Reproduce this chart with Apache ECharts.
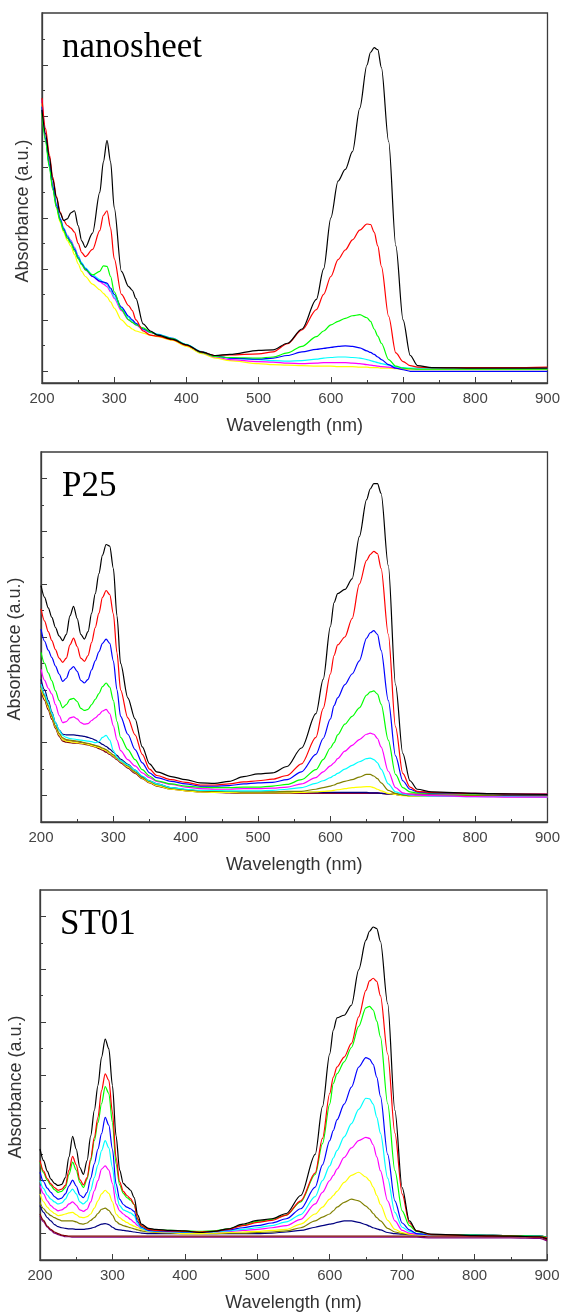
<!DOCTYPE html>
<html>
<head>
<meta charset="utf-8">
<script src="https://cdn.jsdelivr.net/npm/echarts@6/dist/echarts.min.js"></script>
<style>html,body{margin:0;padding:0;background:#fff;}#c{width:563px;height:1313px;}</style>
</head>
<body>
<div id="c"></div>
<script>
// ---------- Panel 1: nanosheet ----------
const W1 = [200,205,210,215,220,225,230,235,240,245,250,255,260,270,280,285,290,295,300,310,320,325,330,340,350,360,380,400,420,440,460,500,520,540,560,580,590,600,610,620,630,640,650,655,660,665,670,680,690,700,710,720,740,800,850,900];
const N_black = [5.12,4.65,4.2,3.75,3.4,3.1,2.95,2.98,3.1,3.14,2.85,2.55,2.42,2.7,3.5,4.1,4.52,4.1,3.2,1.95,1.65,1.58,1.42,0.92,0.78,0.7,0.62,0.51,0.37,0.3,0.32,0.4,0.41,0.54,0.82,1.4,2.0,3.0,3.72,3.95,4.3,5.15,6.0,6.25,6.34,6.3,5.95,4.5,2.45,1.0,0.3,0.1,0.06,0.05,0.05,0.05];
const N_red = [5.35,4.75,4.25,3.8,3.42,3.12,2.95,2.85,2.8,2.72,2.5,2.32,2.24,2.38,2.75,3.05,3.14,2.8,2.2,1.5,1.28,1.18,1.0,0.78,0.7,0.68,0.61,0.5,0.37,0.3,0.31,0.33,0.37,0.53,0.8,1.2,1.5,1.85,2.18,2.37,2.57,2.76,2.88,2.87,2.72,2.45,2.05,1.07,0.35,0.18,0.1,0.07,0.06,0.06,0.06,0.07];
const N_green = [5.05,4.5,4.0,3.55,3.2,2.95,2.75,2.6,2.5,2.35,2.2,2.08,1.98,1.88,1.95,2.06,2.05,1.85,1.55,1.2,1.0,0.95,0.9,0.84,0.76,0.7,0.63,0.51,0.36,0.28,0.26,0.25,0.27,0.35,0.48,0.67,0.78,0.9,0.97,1.03,1.08,1.1,1.04,0.97,0.82,0.68,0.54,0.22,0.09,0.05,0.04,0.03,0.03,0.03,0.03,0.03];
const N_blue = [5.18,4.55,4.05,3.6,3.25,2.98,2.78,2.63,2.52,2.38,2.22,2.1,2.0,1.85,1.76,1.74,1.72,1.62,1.5,1.25,1.07,1.0,0.93,0.82,0.76,0.71,0.63,0.51,0.37,0.29,0.25,0.23,0.25,0.3,0.37,0.42,0.44,0.46,0.48,0.49,0.48,0.45,0.39,0.36,0.32,0.27,0.22,0.12,0.05,0.02,-0.01,-0.01,-0.01,-0.01,-0.01,-0.01];
const N_cyan = [5.18,4.55,4.05,3.62,3.27,3.0,2.8,2.65,2.54,2.4,2.25,2.12,2.02,1.88,1.79,1.74,1.69,1.58,1.45,1.22,1.04,0.98,0.92,0.82,0.76,0.72,0.64,0.52,0.38,0.29,0.25,0.22,0.2,0.19,0.2,0.23,0.25,0.26,0.27,0.27,0.26,0.25,0.22,0.2,0.18,0.16,0.14,0.11,0.08,0.06,0.05,0.05,0.05,0.05,0.05,0.05];
const N_magenta = [5.32,4.65,4.12,3.65,3.28,3.0,2.8,2.66,2.56,2.42,2.26,2.1,1.98,1.85,1.75,1.7,1.65,1.55,1.42,1.18,1.0,0.95,0.9,0.8,0.75,0.71,0.64,0.51,0.36,0.27,0.22,0.18,0.17,0.15,0.14,0.15,0.16,0.16,0.16,0.16,0.15,0.14,0.12,0.11,0.1,0.09,0.08,0.07,0.05,0.04,0.04,0.04,0.04,0.04,0.04,0.04];
const N_yellow = [5.25,4.58,4.05,3.58,3.2,2.92,2.72,2.56,2.44,2.28,2.1,1.95,1.85,1.7,1.59,1.52,1.45,1.35,1.23,1.0,0.87,0.82,0.78,0.74,0.7,0.67,0.6,0.48,0.34,0.25,0.2,0.14,0.12,0.11,0.1,0.09,0.09,0.09,0.08,0.08,0.08,0.07,0.07,0.06,0.06,0.06,0.05,0.05,0.04,0.03,0.02,0.02,0.02,0.02,0.02,0.02];

// ---------- Panel 2: P25 ----------
const W2 = [200,205,210,215,220,225,230,235,240,245,250,255,260,265,270,275,280,285,290,295,300,305,310,320,330,340,350,360,380,400,420,440,460,480,500,520,540,560,580,590,600,605,610,620,630,640,650,655,660,665,670,680,690,700,710,720,740,800,850,900];
const P_black = [3.97,3.75,3.55,3.37,3.18,3.02,2.93,3.05,3.4,3.58,3.35,3.05,2.96,3.1,3.45,3.82,4.2,4.55,4.75,4.72,4.3,3.4,2.5,1.85,1.45,0.92,0.6,0.45,0.36,0.3,0.24,0.23,0.27,0.36,0.41,0.43,0.55,0.9,1.55,2.2,3.2,3.65,3.82,3.9,4.1,4.9,5.6,5.8,5.9,5.9,5.72,4.35,2.1,0.8,0.28,0.12,0.07,0.04,0.03,0.02];
const P_red = [3.53,3.3,3.1,2.93,2.76,2.6,2.52,2.6,2.85,2.98,2.82,2.6,2.54,2.65,2.9,3.18,3.45,3.75,3.88,3.8,3.44,2.7,2.0,1.47,1.15,0.78,0.5,0.38,0.3,0.25,0.2,0.2,0.22,0.26,0.28,0.31,0.38,0.6,1.1,1.65,2.3,2.65,2.85,3.0,3.35,4.0,4.45,4.56,4.62,4.58,4.3,3.05,1.3,0.42,0.16,0.08,0.06,0.04,0.03,0.03];
const P_blue = [3.15,2.92,2.75,2.61,2.45,2.3,2.16,2.22,2.38,2.44,2.35,2.18,2.13,2.2,2.38,2.55,2.72,2.88,2.96,2.88,2.55,2.0,1.5,1.16,0.87,0.62,0.43,0.34,0.27,0.22,0.18,0.18,0.19,0.22,0.24,0.25,0.3,0.45,0.78,1.08,1.45,1.7,1.85,2.1,2.3,2.55,2.98,3.08,3.12,3.05,2.75,1.8,0.75,0.28,0.12,0.07,0.05,0.04,0.03,0.03];
const P_green = [2.71,2.5,2.32,2.17,1.98,1.8,1.66,1.72,1.82,1.84,1.78,1.65,1.61,1.63,1.72,1.82,1.93,2.06,2.13,2.05,1.8,1.4,1.1,0.87,0.68,0.49,0.37,0.28,0.22,0.18,0.16,0.15,0.15,0.16,0.16,0.18,0.21,0.3,0.49,0.68,0.9,1.0,1.15,1.35,1.5,1.66,1.9,1.96,1.98,1.92,1.73,1.05,0.4,0.15,0.07,0.05,0.04,0.03,0.03,0.02];
const P_magenta = [2.39,2.18,2.03,1.92,1.72,1.52,1.38,1.4,1.47,1.49,1.45,1.38,1.35,1.36,1.42,1.47,1.53,1.6,1.63,1.55,1.32,1.05,0.85,0.68,0.56,0.43,0.34,0.27,0.21,0.16,0.13,0.12,0.12,0.13,0.13,0.14,0.16,0.22,0.34,0.45,0.56,0.62,0.7,0.84,0.95,1.06,1.16,1.18,1.16,1.08,0.92,0.46,0.15,0.05,0.02,0.01,0.0,-0.02,-0.03,-0.03];
const P_cyan = [2.11,1.92,1.75,1.56,1.38,1.24,1.14,1.1,1.08,1.07,1.06,1.05,1.04,1.03,1.02,1.0,1.02,1.1,1.14,1.05,0.85,0.72,0.66,0.58,0.48,0.37,0.28,0.22,0.15,0.12,0.1,0.1,0.09,0.09,0.09,0.1,0.12,0.15,0.23,0.28,0.34,0.38,0.42,0.5,0.57,0.64,0.7,0.71,0.68,0.62,0.5,0.22,0.07,0.03,0.01,0.0,-0.01,-0.02,-0.02,-0.03];
const P_olive = [2.08,1.88,1.7,1.5,1.32,1.18,1.09,1.06,1.05,1.04,1.03,1.02,1.0,0.99,0.97,0.95,0.93,0.9,0.87,0.82,0.77,0.71,0.66,0.56,0.45,0.34,0.27,0.21,0.14,0.11,0.09,0.08,0.08,0.07,0.07,0.07,0.08,0.08,0.12,0.15,0.18,0.2,0.23,0.27,0.3,0.35,0.4,0.4,0.37,0.32,0.24,0.1,0.04,0.01,0.0,0.0,0.0,0.0,-0.01,-0.01];
const P_yellow = [2.04,1.85,1.67,1.48,1.3,1.15,1.06,1.03,1.02,1.01,1.0,0.99,0.98,0.97,0.95,0.93,0.91,0.88,0.85,0.8,0.75,0.7,0.64,0.54,0.44,0.33,0.25,0.19,0.12,0.09,0.07,0.06,0.06,0.05,0.05,0.05,0.05,0.06,0.07,0.08,0.09,0.1,0.11,0.13,0.15,0.16,0.17,0.17,0.15,0.12,0.09,0.04,0.02,0.0,-0.01,-0.01,-0.01,-0.01,-0.02,-0.02];
const P_navy = [2.2,2.0,1.8,1.58,1.38,1.24,1.16,1.15,1.15,1.15,1.14,1.13,1.12,1.1,1.08,1.05,1.01,0.97,0.93,0.88,0.82,0.76,0.69,0.59,0.48,0.36,0.28,0.22,0.15,0.11,0.09,0.08,0.07,0.06,0.06,0.06,0.06,0.06,0.06,0.06,0.06,0.06,0.06,0.06,0.06,0.06,0.06,0.05,0.05,0.05,0.04,0.03,0.02,0.01,0.0,0.0,0.0,0.0,0.0,0.0];
const P_purple = [2.12,1.9,1.7,1.5,1.3,1.15,1.06,1.04,1.03,1.02,1.01,1.0,0.99,0.98,0.96,0.94,0.91,0.88,0.84,0.79,0.74,0.69,0.63,0.53,0.43,0.33,0.25,0.19,0.13,0.1,0.08,0.07,0.06,0.05,0.05,0.05,0.05,0.05,0.05,0.05,0.05,0.05,0.05,0.05,0.05,0.05,0.05,0.05,0.05,0.05,0.04,0.03,0.02,0.01,0.01,0.01,0.01,0.0,0.0,0.0];
const P_maroon = [2.0,1.8,1.62,1.44,1.27,1.12,1.03,1.01,1.0,0.99,0.99,0.98,0.97,0.96,0.94,0.92,0.89,0.86,0.82,0.78,0.73,0.68,0.62,0.52,0.42,0.32,0.24,0.18,0.12,0.09,0.07,0.06,0.05,0.04,0.04,0.04,0.04,0.04,0.04,0.04,0.04,0.04,0.04,0.04,0.04,0.04,0.04,0.04,0.04,0.04,0.04,0.03,0.03,0.03,0.03,0.03,0.03,0.03,0.03,0.02];

// ---------- Panel 3: ST01 ----------
const W3 = [200,205,210,215,220,225,230,235,240,245,250,255,260,265,270,275,280,285,290,295,300,305,310,315,320,325,330,335,340,350,360,380,400,420,440,460,480,500,520,540,560,580,590,600,605,610,620,630,640,650,655,660,665,670,680,690,700,710,720,740,800,850,890,900];
const S_black = [1.6,1.38,1.18,1.03,0.95,0.91,0.93,1.06,1.45,1.84,1.6,1.25,1.12,1.38,1.85,2.33,2.8,3.34,3.68,3.5,2.8,1.85,1.2,0.95,0.88,0.82,0.68,0.35,0.18,0.1,0.08,0.06,0.05,0.02,0.04,0.09,0.18,0.25,0.28,0.38,0.72,1.5,2.4,3.4,3.85,4.08,4.13,4.32,4.99,5.55,5.72,5.8,5.77,5.53,4.35,2.33,0.87,0.24,0.05,-0.01,-0.04,-0.05,-0.06,-0.1];
const S_red = [1.38,1.18,1.04,0.94,0.87,0.82,0.84,0.91,1.2,1.46,1.3,1.02,0.92,1.06,1.42,1.82,2.2,2.71,3.02,2.9,2.3,1.44,0.98,0.8,0.72,0.66,0.55,0.28,0.15,0.08,0.06,0.05,0.04,0.03,0.04,0.08,0.15,0.21,0.25,0.35,0.62,1.15,1.8,2.65,2.96,3.15,3.34,3.6,4.1,4.6,4.78,4.83,4.77,4.5,3.4,1.9,0.75,0.2,0.05,-0.02,-0.04,-0.05,-0.06,-0.08];
const S_green = [1.35,1.15,1.01,0.91,0.83,0.78,0.8,0.87,1.12,1.35,1.2,0.97,0.87,1.03,1.38,1.76,2.1,2.46,2.78,2.65,2.1,1.32,0.92,0.76,0.68,0.63,0.55,0.27,0.14,0.08,0.07,0.06,0.05,0.04,0.05,0.09,0.16,0.23,0.27,0.35,0.6,1.12,1.7,2.45,2.84,3.02,3.25,3.52,3.92,4.27,4.3,4.23,4.02,3.72,2.46,1.19,0.43,0.15,0.04,-0.02,-0.03,-0.04,-0.05,-0.07];
const S_blue = [1.16,0.98,0.86,0.78,0.7,0.65,0.67,0.75,0.9,1.01,0.9,0.73,0.68,0.78,1.05,1.32,1.6,1.89,2.2,2.05,1.6,0.94,0.65,0.55,0.5,0.47,0.42,0.22,0.12,0.06,0.05,0.04,0.03,0.03,0.04,0.07,0.11,0.15,0.2,0.28,0.47,0.88,1.3,1.76,1.95,2.15,2.45,2.77,3.15,3.33,3.3,3.2,2.96,2.6,1.5,0.62,0.2,0.07,0.0,-0.02,-0.03,-0.04,-0.05,-0.07];
const S_cyan = [1.0,0.85,0.73,0.65,0.6,0.56,0.58,0.65,0.77,0.84,0.75,0.6,0.56,0.62,0.82,1.06,1.3,1.57,1.76,1.62,1.25,0.75,0.53,0.45,0.42,0.39,0.34,0.18,0.1,0.05,0.04,0.03,0.02,0.02,0.03,0.05,0.08,0.11,0.15,0.22,0.36,0.7,1.0,1.28,1.43,1.57,1.83,2.08,2.35,2.56,2.55,2.45,2.2,1.9,1.05,0.4,0.12,0.04,0.0,-0.02,-0.03,-0.04,-0.05,-0.07];
const S_magenta = [0.91,0.75,0.62,0.53,0.47,0.43,0.45,0.49,0.56,0.6,0.54,0.45,0.42,0.46,0.6,0.81,1.0,1.22,1.28,1.2,0.95,0.56,0.43,0.37,0.32,0.27,0.21,0.15,0.1,0.05,0.04,0.03,0.02,0.02,0.03,0.04,0.06,0.08,0.11,0.15,0.27,0.56,0.78,1.0,1.1,1.22,1.44,1.62,1.76,1.82,1.8,1.68,1.45,1.19,0.62,0.24,0.06,0.01,-0.01,-0.02,-0.03,-0.04,-0.05,-0.07];
const S_yellow = [0.75,0.6,0.5,0.43,0.38,0.34,0.35,0.37,0.39,0.4,0.36,0.31,0.3,0.32,0.37,0.48,0.62,0.75,0.82,0.76,0.6,0.37,0.3,0.25,0.21,0.17,0.14,0.11,0.08,0.04,0.03,0.02,0.0,0.0,0.01,0.02,0.03,0.04,0.06,0.08,0.18,0.37,0.5,0.65,0.72,0.8,0.97,1.1,1.16,1.07,1.0,0.88,0.72,0.55,0.25,0.08,0.02,-0.01,-0.02,-0.02,-0.03,-0.04,-0.05,-0.07];
const S_olive = [0.59,0.47,0.39,0.34,0.3,0.27,0.24,0.24,0.24,0.24,0.22,0.19,0.18,0.2,0.25,0.3,0.38,0.46,0.48,0.44,0.35,0.23,0.18,0.15,0.13,0.11,0.09,0.07,0.05,0.03,0.02,0.01,0.0,0.0,0.0,0.01,0.01,0.02,0.03,0.05,0.11,0.24,0.31,0.37,0.43,0.5,0.59,0.65,0.62,0.52,0.46,0.38,0.3,0.24,0.1,0.03,0.0,-0.01,-0.02,-0.02,-0.03,-0.04,-0.05,-0.07];
const S_navy = [0.53,0.4,0.3,0.24,0.17,0.13,0.11,0.1,0.09,0.09,0.08,0.08,0.08,0.09,0.1,0.12,0.15,0.18,0.19,0.17,0.12,0.08,0.07,0.06,0.05,0.04,0.03,0.02,0.01,0.0,0.0,0.0,0.0,0.0,0.0,0.0,0.0,0.0,0.01,0.03,0.06,0.12,0.15,0.18,0.19,0.21,0.24,0.24,0.21,0.17,0.14,0.11,0.09,0.07,0.02,0.0,-0.01,-0.02,-0.02,-0.02,-0.03,-0.04,-0.05,-0.07];
const S_maroon = [0.37,0.25,0.14,0.08,0.03,0.0,-0.03,-0.04,-0.05,-0.05,-0.05,-0.05,-0.05,-0.05,-0.05,-0.05,-0.05,-0.05,-0.05,-0.05,-0.05,-0.05,-0.05,-0.05,-0.05,-0.05,-0.05,-0.05,-0.05,-0.05,-0.05,-0.05,-0.05,-0.05,-0.05,-0.05,-0.05,-0.05,-0.05,-0.05,-0.05,-0.05,-0.05,-0.05,-0.05,-0.05,-0.05,-0.05,-0.05,-0.05,-0.05,-0.05,-0.05,-0.05,-0.05,-0.05,-0.05,-0.05,-0.05,-0.06,-0.06,-0.06,-0.07,-0.12];
const S_purple = [0.33,0.22,0.12,0.06,0.01,-0.02,-0.04,-0.06,-0.06,-0.07,-0.07,-0.07,-0.07,-0.07,-0.07,-0.07,-0.07,-0.07,-0.07,-0.07,-0.07,-0.07,-0.07,-0.07,-0.07,-0.07,-0.07,-0.07,-0.07,-0.07,-0.07,-0.07,-0.07,-0.07,-0.07,-0.07,-0.07,-0.07,-0.07,-0.07,-0.07,-0.07,-0.07,-0.07,-0.07,-0.07,-0.07,-0.07,-0.07,-0.07,-0.07,-0.07,-0.07,-0.07,-0.07,-0.07,-0.07,-0.07,-0.07,-0.08,-0.08,-0.08,-0.09,-0.14];

// ---------- axis ticks / labels ----------
const X_TICK_LABELS = [200,300,400,500,600,700,800,900];
const Y_MAJOR = [0,1,2,3,4,5,6];
const Y_MINOR1 = [0.5,1.5,2.5,3.5,4.5,5.5,6.5];
const Y_MINOR23 = [-0.5,0.5,1.5,2.5,3.5,4.5,5.5];
const PANEL_TITLES = ['nanosheet','P25','ST01'];
const X_TITLE = 'Wavelength (nm)';
const Y_TITLE = 'Absorbance (a.u.)';

const C = {black:'#000000', red:'#ff0000', green:'#00ff00', blue:'#0000ff', cyan:'#00ffff', magenta:'#ff00ff', yellow:'#ffff00', olive:'#808000', navy:'#000080', purple:'#800080', maroon:'#800000'};

const panels = [
  {w:W1, grid:{left:42, top:13, width:507, height:370}, yMin:-0.24, yMax:7.02, minor:Y_MINOR1,
   lines:[[N_yellow,'yellow'],[N_magenta,'magenta'],[N_cyan,'cyan'],[N_blue,'blue'],[N_green,'green'],[N_red,'red'],[N_black,'black']]},
  {w:W2, grid:{left:41, top:452, width:507, height:370}, yMin:-0.5, yMax:6.5, minor:Y_MINOR23,
   lines:[[P_maroon,'maroon'],[P_purple,'purple'],[P_navy,'navy'],[P_yellow,'yellow'],[P_olive,'olive'],[P_cyan,'cyan'],[P_magenta,'magenta'],[P_green,'green'],[P_blue,'blue'],[P_red,'red'],[P_black,'black']]},
  {w:W3, grid:{left:40, top:890, width:507, height:370}, yMin:-0.5, yMax:6.5, minor:Y_MINOR23,
   lines:[[S_purple,'purple'],[S_maroon,'maroon'],[S_navy,'navy'],[S_olive,'olive'],[S_yellow,'yellow'],[S_magenta,'magenta'],[S_cyan,'cyan'],[S_blue,'blue'],[S_green,'green'],[S_red,'red'],[S_black,'black']]}
];

const AX = '#3c3c3c';
const grids = [], xAxes = [], yAxes = [], series = [];
panels.forEach((p, g) => {
  grids.push(Object.assign({show:true, borderColor:AX, borderWidth:1.3, backgroundColor:'transparent'}, p.grid));
  xAxes.push({
    gridIndex:g, type:'value', min:200, max:900, interval:100, position:'bottom',
    name:X_TITLE, nameLocation:'middle', nameGap:34,
    nameTextStyle:{fontFamily:'Liberation Sans', fontSize:18, color:'#333'},
    axisLine:{show:true, onZero:false, lineStyle:{color:AX, width:1.3}},
    axisTick:{show:true, inside:true, length:6, lineStyle:{color:AX, width:1}},
    minorTick:{show:true, splitNumber:2, length:3, lineStyle:{color:AX, width:1}},
    axisLabel:{show:true, margin:8, fontFamily:'Liberation Sans', fontSize:15, color:'#444',
      formatter:v => X_TICK_LABELS.includes(v) ? String(v) : ''},
    splitLine:{show:false}, minorSplitLine:{show:false}
  });
  yAxes.push({
    gridIndex:g, type:'value', min:p.yMin, max:p.yMax, position:'left',
    axisLine:{show:true, onZero:false, lineStyle:{color:AX, width:1.3}},
    axisTick:{show:true, inside:true, length:6, customValues:Y_MAJOR, lineStyle:{color:AX, width:1}},
    axisLabel:{show:false}, splitLine:{show:false}
  });
  yAxes.push({
    gridIndex:g, type:'value', min:p.yMin, max:p.yMax, position:'left', offset:0,
    axisLine:{show:false, onZero:false},
    axisTick:{show:true, inside:true, length:3, customValues:p.minor, lineStyle:{color:AX, width:1}},
    axisLabel:{show:false}, splitLine:{show:false}
  });
  p.lines.forEach(([vals, col]) => {
    series.push({
      type:'line', xAxisIndex:g, yAxisIndex:g*2, showSymbol:false, symbol:'none',
      smooth:0.3, smoothMonotone:'x', clip:true,
      lineStyle:{color:C[col], width:1.2}, itemStyle:{color:C[col]},
      data:p.w.map((x, i) => [x, vals[i]]), silent:true
    });
  });
});

const graphics = [
  {type:'text', left:62, top:30, style:{text:PANEL_TITLES[0], font:'35px "Liberation Serif"', fill:'#000'}},
  {type:'text', left:62, top:469, style:{text:PANEL_TITLES[1], font:'35px "Liberation Serif"', fill:'#000'}},
  {type:'text', left:60, top:907, style:{text:PANEL_TITLES[2], font:'35px "Liberation Serif"', fill:'#000'}},
  {type:'text', x:23, y:211, rotation:Math.PI/2, style:{text:Y_TITLE, font:'18px "Liberation Sans"', fill:'#333', align:'center', verticalAlign:'middle'}},
  {type:'text', x:15, y:649, rotation:Math.PI/2, style:{text:Y_TITLE, font:'18px "Liberation Sans"', fill:'#333', align:'center', verticalAlign:'middle'}},
  {type:'text', x:16, y:1087, rotation:Math.PI/2, style:{text:Y_TITLE, font:'18px "Liberation Sans"', fill:'#333', align:'center', verticalAlign:'middle'}}
];

const chart = echarts.init(document.getElementById('c'), null, {renderer:'canvas'});
chart.setOption({
  animation:false, backgroundColor:'#ffffff',
  grid:grids, xAxis:xAxes, yAxis:yAxes, series:series, graphic:graphics
});
</script>
</body>
</html>
